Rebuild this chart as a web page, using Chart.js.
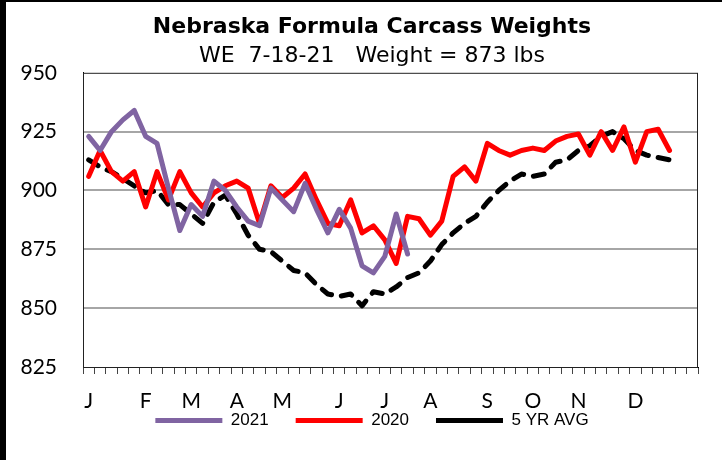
<!DOCTYPE html>
<html>
<head>
<meta charset="utf-8">
<script src="https://cdn.jsdelivr.net/npm/chart.js@4.4.1/dist/chart.umd.min.js"></script>
<style>
  body { margin: 0; background: #fff; }
  #wrap { position: relative; width: 722px; height: 460px; }
  #wrap canvas { position: absolute; left: 0; top: 0; }
  .edge { position: absolute; background: #000; }
</style>
</head>
<body>
<div id="wrap">
  <canvas id="weights" width="722" height="460"></canvas>
  <div class="edge" style="left:0;top:0;width:6px;height:460px"></div>
  <div class="edge" style="left:0;top:0;width:722px;height:2px"></div>
</div>
<script>
// month letters under the week slots (54 slots, 52 weeks of data)
const monthTicks = [
  'J', '', '', '', '', 'F', '', '', '', 'M', '', '', '', 'A', '', '', '', 'M',
  '', '', '', '', 'J', '', '', '', 'J', '', '', '', 'A', '', '', '', '', 'S',
  '', '', '', 'O', '', '', '', 'N', '', '', '', '', 'D', '', '', '', '', ''
];

const weights2021 = [
  923, 917, 925, 930, 934, 923, 920, 901, 883, 894, 889, 904, 900, 893, 887,
  885, 901, 896, 891, 903, 892, 882, 892, 884, 868, 865, 872, 890, 873
];

const weights2020 = [
  906, 917, 908, 904, 908, 893, 908, 896, 908, 899, 893, 899, 902, 904, 901,
  886, 902, 897, 901, 907, 896, 886, 885, 896, 882, 885, 879, 869, 889, 888,
  881, 887, 906, 910, 904, 920, 917, 915, 917, 918, 917, 921, 923, 924, 915,
  925, 917, 927, 912, 925, 926, 917
];

const fiveYrAvg = [
  913, 910, 908, 905, 902, 899, 900, 894, 894, 890, 886, 895, 898, 890, 881,
  875, 874, 870, 866, 865, 860, 856, 855, 856, 851, 857, 856, 859, 863, 865,
  870, 877, 882, 886, 889, 895, 900, 904, 907, 906, 907, 912, 913, 917, 919,
  923, 925, 922, 917, 915, 914, 913
];

const yTicks = [825, 850, 875, 900, 925, 950];

// frame round the plot area (top and right sides)
const plotFrame = {
  id: 'plotFrame',
  afterDatasetsDraw(chart) {
    const { ctx, chartArea: a } = chart;
    ctx.save();
    ctx.strokeStyle = '#222';
    ctx.lineWidth = 1;
    ctx.strokeRect(a.left + 0.5, a.top + 0.5, a.right - a.left - 1, a.bottom - a.top);
    ctx.restore();
  }
};

// tick labels sit outside the squeezed axis boxes, so don't clip them
const noLabelClip = scale => { scale._computeLabelArea = () => undefined; };

const ctx = document.getElementById('weights').getContext('2d');

new Chart(ctx, {
  type: 'line',
  data: {
    labels: monthTicks,
    datasets: [
      {
        label: '2021',
        data: weights2021,
        borderColor: '#8064A2',
        backgroundColor: '#8064A2',
        borderWidth: 5,
        borderCapStyle: 'round',
        borderJoinStyle: 'round',
        pointRadius: 0,
        tension: 0,
        order: 1
      },
      {
        label: '2020',
        data: weights2020,
        borderColor: '#FF0000',
        backgroundColor: '#FF0000',
        borderWidth: 5,
        borderCapStyle: 'round',
        borderJoinStyle: 'round',
        pointRadius: 0,
        tension: 0,
        order: 2
      },
      {
        label: '5 YR AVG',
        data: fiveYrAvg,
        borderColor: '#000000',
        backgroundColor: '#000000',
        borderWidth: 5,
        borderDash: [11, 10],
        borderCapStyle: 'round',
        borderJoinStyle: 'round',
        pointRadius: 0,
        tension: 0,
        order: 3
      }
    ]
  },
  options: {
    responsive: false,
    animation: false,
    layout: { padding: { left: 46, right: 24, top: 0, bottom: 21 } },
    scales: {
      x: {
        offset: true,
        grid: {
          offset: true,
          drawOnChartArea: false,
          drawTicks: true,
          tickLength: 7,
          tickWidth: 1,
          color: '#444',
          tickColor: '#444'
        },
        border: { display: true, color: '#000', width: 1 },
        ticks: {
          autoSkip: false,
          maxRotation: 0,
          padding: 17,
          color: '#000',
          font: { family: 'Lato', size: 21, lineHeight: 1 }
        },
        afterFit(scale) { scale.height = 18; noLabelClip(scale); }
      },
      y: {
        min: 825,
        max: 950,
        afterBuildTicks(scale) { scale.ticks = yTicks.map(v => ({ value: v })); },
        grid: {
          drawTicks: false,
          lineWidth: 2,
          color: c => (c.tick && (c.tick.value === 950 || c.tick.value === 825)) ? 'rgba(0,0,0,0)' : '#a6a6a6'
        },
        border: { display: true, color: '#000', width: 1 },
        ticks: {
          padding: 26,
          color: '#000',
          font: { family: 'Lato', size: 21 }
        },
        afterFit(scale) { scale.width = 37; noLabelClip(scale); }
      }
    },
    plugins: {
      title: {
        display: true,
        text: 'Nebraska Formula Carcass Weights',
        color: '#000',
        font: { family: 'DejaVu Sans', size: 22, weight: 'bold' },
        padding: { top: 14, bottom: 1 }
      },
      subtitle: {
        display: true,
        text: 'WE  7-18-21   Weight = 873 lbs',
        color: '#000',
        font: { family: 'DejaVu Sans', size: 22 },
        padding: { top: 2, bottom: 3 }
      },
      legend: {
        position: 'bottom',
        labels: {
          usePointStyle: true,
          pointStyle: 'line',
          pointStyleWidth: 67,
          padding: 27,
          color: '#000',
          font: { family: 'Liberation Sans', size: 17 },
          sort: (a, b) => a.datasetIndex - b.datasetIndex
        }
      },
      tooltip: { enabled: false }
    }
  },
  plugins: [plotFrame]
});
</script>
</body>
</html>
